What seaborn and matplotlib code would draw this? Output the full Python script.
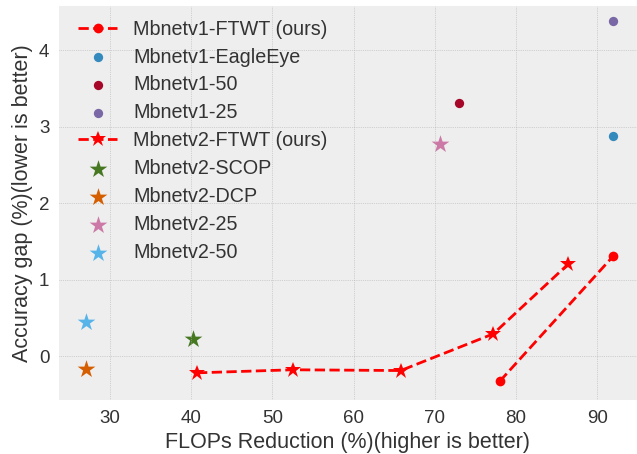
import matplotlib
matplotlib.use("Agg")
import matplotlib.pyplot as plt
import seaborn as sns

plt.style.use("bmh")
plt.rcParams["font.family"] = ["Liberation Sans", "DejaVu Sans"]

# Data
v1_ftwt_x = [78.0, 92.0]
v1_ftwt_y = [-0.33, 1.31]
v1_eagle_x, v1_eagle_y = [92.0], [2.88]
v1_50_x, v1_50_y = [73.0], [3.31]
v1_25_x, v1_25_y = [92.0], [4.38]
v2_ftwt_x = [40.7, 52.5, 65.8, 77.2, 86.4]
v2_ftwt_y = [-0.22, -0.18, -0.19, 0.29, 1.20]
v2_scop_x, v2_scop_y = [40.2], [0.22]
v2_dcp_x, v2_dcp_y = [27.0], [-0.17]
v2_25_x, v2_25_y = [70.65], [2.78]
v2_50_x, v2_50_y = [27.0], [0.44]

fig = plt.figure(figsize=(6.37, 4.54), dpi=100)
ax = fig.add_axes([0.0926, 0.119, 0.9074, 0.868])

sns.lineplot(x=v1_ftwt_x, y=v1_ftwt_y, ax=ax, color="red", linestyle="--",
             marker="o", markersize=7, markeredgewidth=0, label="Mbnetv1-FTWT (ours)")
sns.scatterplot(x=v1_eagle_x, y=v1_eagle_y, ax=ax, color="#348ABD", marker="o", s=45,
                linewidth=0, label="Mbnetv1-EagleEye")
sns.scatterplot(x=v1_50_x, y=v1_50_y, ax=ax, color="#A60628", marker="o", s=45,
                linewidth=0, label="Mbnetv1-50")
sns.scatterplot(x=v1_25_x, y=v1_25_y, ax=ax, color="#7A68A6", marker="o", s=45,
                linewidth=0, label="Mbnetv1-25")
sns.lineplot(x=v2_ftwt_x, y=v2_ftwt_y, ax=ax, color="red", linestyle="--",
             marker="*", markersize=12, markeredgewidth=0, label="Mbnetv2-FTWT (ours)")
sns.scatterplot(x=v2_scop_x, y=v2_scop_y, ax=ax, color="#467821", marker="*", s=180,
                linewidth=0, label="Mbnetv2-SCOP")
sns.scatterplot(x=v2_dcp_x, y=v2_dcp_y, ax=ax, color="#D55E00", marker="*", s=180,
                linewidth=0, label="Mbnetv2-DCP")
sns.scatterplot(x=v2_25_x, y=v2_25_y, ax=ax, color="#CC79A7", marker="*", s=180,
                linewidth=0, label="Mbnetv2-25")
sns.scatterplot(x=v2_50_x, y=v2_50_y, ax=ax, color="#56B4E9", marker="*", s=180,
                linewidth=0, label="Mbnetv2-50")

ax.set_xlim(23.7, 94.9)
ax.set_ylim(-0.575, 4.58)
ax.set_xticks([30, 40, 50, 60, 70, 80, 90])
ax.set_yticks([0, 1, 2, 3, 4])
ax.tick_params(labelsize=13.5, length=0, pad=7, colors="#333333")
ax.set_xlabel("FLOPs Reduction (%)(higher is better)", fontsize=15.5, color="#333333")
ax.set_ylabel("Accuracy gap (%)(lower is better)", fontsize=15.5, color="#333333")
ax.grid(True, linestyle=":", color="#b2b2b2")
for s in ax.spines.values():
    s.set_visible(False)
leg = ax.legend(loc="upper left", frameon=False, fontsize=14.2, labelspacing=0.45,
                borderaxespad=0.3, bbox_to_anchor=(0.009, 1.0))
for t in leg.get_texts():
    t.set_color("#333333")

fig.savefig("out.png", dpi=100)
